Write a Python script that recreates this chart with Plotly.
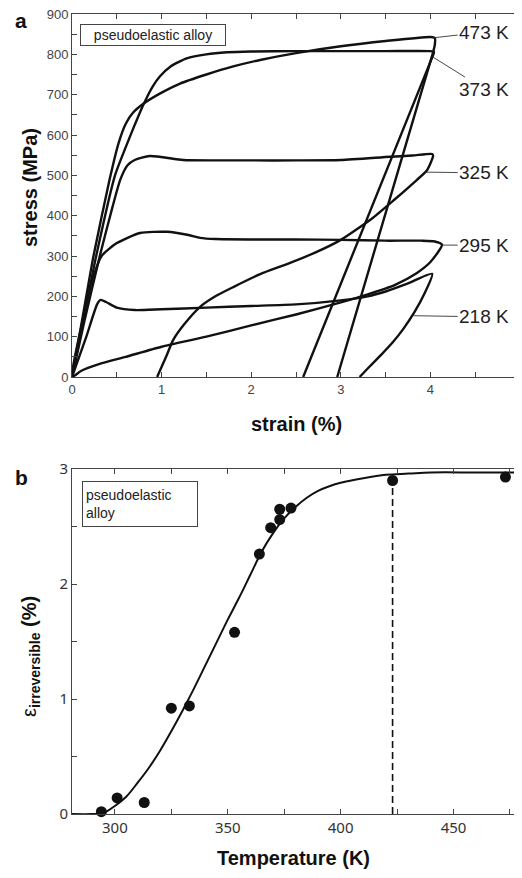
import plotly.graph_objects as go

# ── panel a: stress-strain loops (strain %, stress MPa) ──
strain_473 = [0, 0.12, 0.24, 0.42, 0.52, 0.6, 0.68, 0.8, 1.0, 1.2, 1.5, 1.8, 2.1, 2.5, 3.0, 3.5, 4.0, 4.05, 4.05, 4.03, 2.96]
stress_473 = [0, 150, 300, 490, 580, 628, 655, 678, 705, 727, 750, 770, 786, 803, 820, 833, 843, 840, 825, 805, 0]

strain_373 = [0, 0.135, 0.27, 0.48, 0.6, 0.7, 0.79, 0.9, 0.98, 1.1, 1.28, 1.5, 1.73, 2.0, 2.5, 3.0, 3.5, 4.0, 4.04, 4.03, 2.58]
stress_373 = [0, 150, 300, 500, 570, 625, 672, 720, 745, 770, 790, 800, 805, 807, 808, 808, 808, 808, 806, 798, 0]

strain_325 = [0, 0.14, 0.31, 0.45, 0.54, 0.62, 0.7, 0.87, 1.24, 1.6, 2.0, 2.5, 3.0, 3.55, 3.8, 4.02, 4.03,
              3.96, 3.85, 3.6, 3.36, 3.0, 2.7, 2.4, 2.1, 1.8, 1.6, 1.43, 1.25, 1.13, 1.05, 0.95]
stress_325 = [0, 140, 300, 420, 490, 525, 538, 548, 538, 537, 537, 537, 538, 546, 549, 553, 548,
              512, 489, 440, 395, 340, 307, 280, 255, 223, 200, 174, 130, 92, 50, 0]

strain_295 = [0, 0.13, 0.22, 0.33, 0.5, 0.76, 1.06, 1.3, 1.43, 1.6, 2.0, 2.5, 3.0, 3.5, 3.9, 4.05, 4.13,
              4.0, 3.85, 3.6, 3.3, 3.0, 2.5, 2.0, 1.5, 1.0, 0.6, 0.3, 0.1, 0]
stress_295 = [0, 150, 235, 300, 332, 357, 360, 352, 345, 342, 341, 341, 340, 338, 338, 336, 328,
              285, 258, 228, 205, 185, 155, 128, 100, 75, 50, 32, 15, 0]

strain_218 = [0, 0.16, 0.28, 0.32, 0.38, 0.5, 0.7, 1.0, 1.5, 2.0, 2.5, 3.0, 3.3, 3.5, 3.75, 4.02,
              3.93, 3.82, 3.7, 3.58, 3.45, 3.33, 3.21]
stress_218 = [0, 100, 180, 191, 186, 172, 166, 168, 172, 176, 180, 190, 200, 212, 232, 256,
              205, 160, 120, 86, 55, 28, 0]

loop_labels = ["473 K", "373 K", "325 K", "295 K", "218 K"]
label_x = [4.6, 4.6, 4.6, 4.6, 4.6]
label_y = [855, 714, 506, 327, 149]
point_x = [4.03, 4.03, 3.94, 4.13, 3.81]
point_y = [841, 793, 508, 327, 152]

# ── panel b: irreversible strain vs temperature ──
temp_pts = [294, 301, 313, 325, 333, 353, 364, 369, 373, 373, 378, 423, 473]
eps_pts = [0.02, 0.14, 0.10, 0.92, 0.94, 1.58, 2.26, 2.49, 2.56, 2.65, 2.66, 2.90, 2.93]

temp_fit = [281, 290, 295, 300, 305, 310, 315, 320, 325, 330, 335, 340, 345, 350, 355, 360, 365,
            370, 375, 380, 385, 390, 395, 400, 410, 420, 430, 440, 460, 479]
eps_fit = [0, 0, 0.01, 0.07, 0.15, 0.27, 0.40, 0.55, 0.72, 0.90, 1.09, 1.29, 1.49, 1.69, 1.88, 2.08, 2.28,
           2.44, 2.57, 2.67, 2.75, 2.81, 2.85, 2.88, 2.92, 2.95, 2.96, 2.97, 2.97, 2.97]

t_dashed = [423, 423]
eps_dashed = [0, 2.85]

# the page body adds an 8px offset; positions below are given in window pixels
PAD = 8
W, H = 522 - PAD, 878 - PAD
INK = "#111111"
AX = "#444444"


def px(x):
    return (x - PAD) / W


def py(y):
    return 1 - (y - PAD) / H


fig = go.Figure()

for sx, sy in [(strain_473, stress_473), (strain_373, stress_373), (strain_325, stress_325),
               (strain_295, stress_295), (strain_218, stress_218)]:
    fig.add_trace(go.Scatter(x=sx, y=sy, mode="lines",
                             line=dict(color=INK, width=2.4, shape="spline", smoothing=0.6),
                             showlegend=False, xaxis="x", yaxis="y"))

fig.add_trace(go.Scatter(x=temp_fit, y=eps_fit, mode="lines", line=dict(color=INK, width=2, shape="spline"),
                         showlegend=False, xaxis="x2", yaxis="y2"))
fig.add_trace(go.Scatter(x=t_dashed, y=eps_dashed, mode="lines", line=dict(color=INK, width=1.6, dash="7px,4px"),
                         showlegend=False, xaxis="x2", yaxis="y2"))
fig.add_trace(go.Scatter(x=temp_pts, y=eps_pts, mode="markers", marker=dict(color=INK, size=11),
                         showlegend=False, xaxis="x2", yaxis="y2", cliponaxis=False))

axis_common = dict(showline=True, linecolor=AX, linewidth=1, mirror="ticks", ticks="inside",
                   ticklen=5, tickcolor=AX, showgrid=False, zeroline=False, automargin=False,
                   ticklabeloverflow="allow")

fig.update_layout(
    width=W, height=H,
    margin=dict(l=0, r=0, t=0, b=0, autoexpand=False),
    paper_bgcolor="white", plot_bgcolor="white",
    font=dict(family="Liberation Sans, Arial, sans-serif", color="#222222"),
    xaxis=dict(**axis_common, domain=[px(72), px(520)], anchor="y", range=[0, 5], dtick=1,
               minor=dict(dtick=0.5, ticks="inside", ticklen=5, tickcolor=AX),
               tickfont=dict(size=13, color="#444444")),
    yaxis=dict(**axis_common, domain=[py(377), py(14)], anchor="x", range=[0, 900], dtick=100,
               minor=dict(dtick=50, ticks="inside", ticklen=5, tickcolor=AX),
               tickfont=dict(size=13, color="#444444")),
    xaxis2=dict(**axis_common, domain=[px(72), px(519)], anchor="y2", range=[281, 479], tick0=300, dtick=50,
                minor=dict(dtick=25, ticks="inside", ticklen=5, tickcolor=AX),
                tickfont=dict(size=15, color="#333333", family="Noto Sans, Open Sans, sans-serif")),
    yaxis2=dict(**axis_common, domain=[py(814), py(469)], anchor="x2", range=[0, 3], dtick=1,
                minor=dict(dtick=0.5, ticks="inside", ticklen=5, tickcolor=AX),
                tickfont=dict(size=15, color="#333333", family="Noto Sans, Open Sans, sans-serif")),
)

# leader lines and temperature labels
for lbl, lx, ly, tx, ty in zip(loop_labels, label_x, label_y, point_x, point_y):
    fig.add_annotation(x=tx, y=ty, xref="x", yref="y", ax=lx, ay=ly, axref="x", ayref="y",
                       text=lbl, showarrow=True, arrowhead=0, arrowwidth=0.9, arrowcolor="#333333",
                       standoff=0, font=dict(size=19, color="#222222"))

# boxed captions
fig.add_annotation(x=px(80), y=py(24), xref="paper", yref="paper", xanchor="left", yanchor="top",
                   text="pseudoelastic alloy", showarrow=False, font=dict(size=14, color="#222222"),
                   width=140, height=16, bordercolor="#444444", borderwidth=1, borderpad=2, bgcolor="white")
fig.add_annotation(x=px(82), y=py(481), xref="paper", yref="paper", xanchor="left", yanchor="top",
                   text="pseudoelastic<br>alloy", showarrow=False, align="left",
                   font=dict(size=14, color="#222222"), width=108, height=38,
                   bordercolor="#444444", borderwidth=1, borderpad=3, bgcolor="white")

centered = dict(xref="paper", yref="paper", xanchor="center", yanchor="middle", showarrow=False)

# panel letters
fig.add_annotation(x=px(21), y=py(20), text="<b>a</b>", font=dict(size=21, color="#111111"), **centered)
fig.add_annotation(x=px(21), y=py(477), text="<b>b</b>", font=dict(size=21, color="#111111"), **centered)

# axis titles
fig.add_annotation(x=px(30), y=py(188), text="<b>stress (MPa)</b>", textangle=-90,
                   font=dict(size=20, color="#111111"), **centered)
fig.add_annotation(x=px(296), y=py(424), text="<b>strain (%)</b>",
                   font=dict(size=20, color="#111111"), **centered)
fig.add_annotation(x=px(293), y=py(858), text="<b>Temperature (K)</b>",
                   font=dict(size=20, color="#111111"), **centered)
fig.add_annotation(x=px(30), y=py(657), text="ε<sub><b>irreversible</b></sub><b> (%)</b>", textangle=-90,
                   font=dict(size=20, color="#111111"), **centered)

fig.write_html("out.html")
